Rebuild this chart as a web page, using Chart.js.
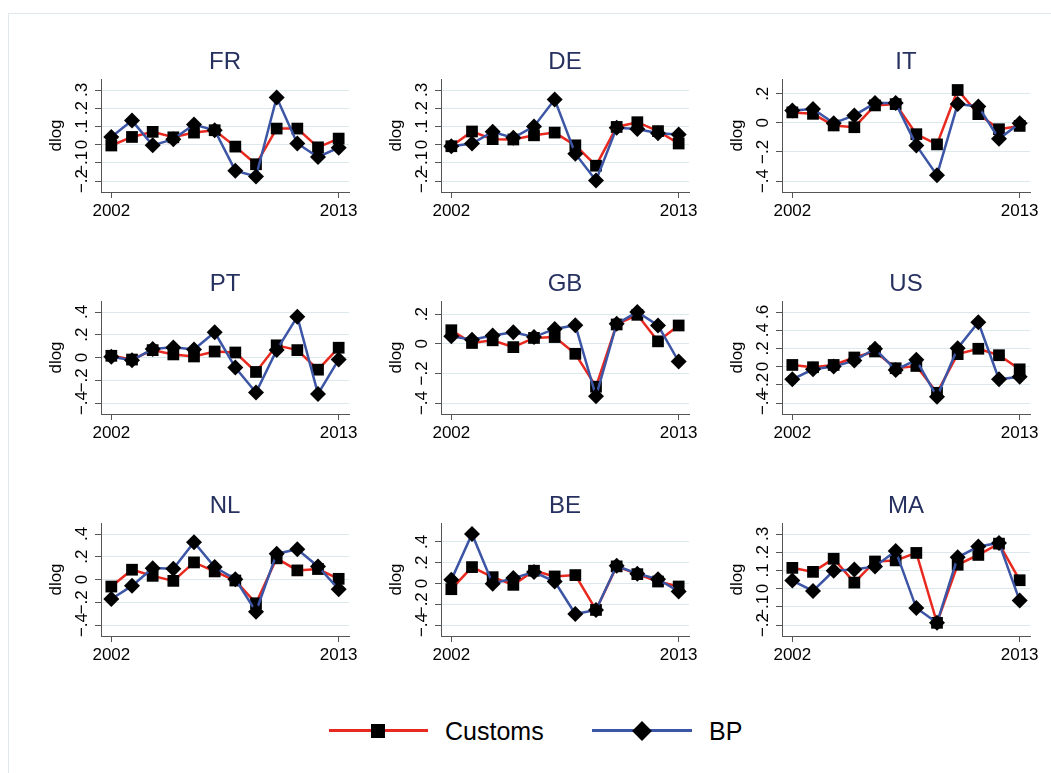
<!DOCTYPE html>
<html>
<head>
<meta charset="utf-8">
<script src="https://cdn.jsdelivr.net/npm/chart.js@4.4.1/dist/chart.umd.min.js"></script>
<style>
  html, body { margin: 0; padding: 0; background: #fff; }
  body { width: 1051px; height: 773px; position: relative; overflow: hidden; font-family: "Liberation Sans", Arial, sans-serif; }
  #frame { position: absolute; left: 8px; top: 13px; width: 1100px; height: 800px; border: 1px solid #dfeaec; }
  .panel { position: absolute; }
  .lg-line { position: absolute; height: 3px; }
  .lg-mark { position: absolute; width: 14px; height: 14px; background: #000; }
  .lg-text { position: absolute; font-size: 25px; line-height: 28px; color: #000; }
</style>
</head>
<body>
<div id="frame"></div>

<div class="lg-line" style="left:329px; top:729px; width:99px; background:#e8291f"></div>
<div class="lg-mark" style="left:371px; top:724px"></div>
<div class="lg-text" style="left:445px; top:717px">Customs</div>
<div class="lg-line" style="left:592px; top:729px; width:100px; background:#3c55a5"></div>
<div class="lg-mark" style="left:635px; top:724px; transform:rotate(45deg)"></div>
<div class="lg-text" style="left:709px; top:717px">BP</div>

<script>
// years on the x axis, only first and last get a tick
const years = [2002, 2003, 2004, 2005, 2006, 2007, 2008, 2009, 2010, 2011, 2012, 2013]
const xTicks = [2002, 2013]

const countries = ['FR', 'DE', 'IT', 'PT', 'GB', 'US', 'NL', 'BE', 'MA']

// Customs series (dlog)
const customsFR = [-0.005, 0.042, 0.07, 0.04, 0.066, 0.079, -0.011, -0.108, 0.088, 0.088, -0.015, 0.033]
const customsDE = [-0.009, 0.072, 0.03, 0.028, 0.051, 0.066, -0.004, -0.116, 0.097, 0.123, 0.074, 0.006]
const customsIT = [0.072, 0.062, -0.018, -0.03, 0.12, 0.129, -0.078, -0.148, 0.226, 0.06, -0.044, -0.021]
const customsPT = [0.015, -0.018, 0.065, 0.027, 0.009, 0.053, 0.044, -0.127, 0.107, 0.065, -0.107, 0.086]
const customsGB = [0.091, 0.005, 0.023, -0.023, 0.039, 0.045, -0.068, -0.29, 0.13, 0.195, 0.016, 0.123]
const customsUS = [0.018, -0.007, 0.018, 0.1, 0.166, -0.018, 0.007, -0.288, 0.137, 0.196, 0.125, -0.03]
const customsNL = [-0.062, 0.086, 0.032, -0.012, 0.15, 0.071, -0.009, -0.209, 0.186, 0.08, 0.092, 0.006]
const customsBE = [-0.055, 0.158, 0.061, -0.013, 0.123, 0.068, 0.081, -0.255, 0.165, 0.09, 0.019, -0.029]
const customsMA = [0.114, 0.092, 0.164, 0.033, 0.149, 0.155, 0.196, -0.188, 0.131, 0.185, 0.247, 0.046]

// BP series (dlog)
const bpFR = [0.042, 0.132, -0.004, 0.03, 0.11, 0.079, -0.143, -0.175, 0.259, 0.006, -0.068, -0.017]
const bpDE = [-0.009, 0.006, 0.07, 0.037, 0.1, 0.248, -0.05, -0.197, 0.092, 0.086, 0.062, 0.055]
const bpIT = [0.085, 0.095, -0.002, 0.051, 0.136, 0.136, -0.155, -0.36, 0.129, 0.113, -0.11, -0.002]
const bpPT = [0.006, -0.024, 0.074, 0.089, 0.071, 0.222, -0.089, -0.308, 0.065, 0.359, -0.32, -0.018]
const bpGB = [0.05, 0.027, 0.055, 0.077, 0.045, 0.1, 0.125, -0.355, 0.134, 0.214, 0.123, -0.12]
const bpUS = [-0.14, -0.03, 0.0, 0.066, 0.196, -0.037, 0.074, -0.332, 0.203, 0.487, -0.14, -0.111]
const bpNL = [-0.171, -0.056, 0.1, 0.094, 0.327, 0.109, 0.003, -0.283, 0.227, 0.266, 0.115, -0.086]
const bpBE = [0.035, 0.477, -0.003, 0.052, 0.11, 0.019, -0.294, -0.255, 0.171, 0.094, 0.042, -0.077]
const bpMA = [0.044, -0.013, 0.098, 0.105, 0.122, 0.207, -0.107, -0.188, 0.172, 0.231, 0.251, -0.066]

// y tick values per panel
const ticksTenth = [-0.2, -0.1, 0, 0.1, 0.2, 0.3]
const ticksShort = [-0.4, -0.2, 0, 0.2]
const ticksMid = [-0.4, -0.2, 0, 0.2, 0.4]
const ticksWide = [-0.4, -0.2, 0, 0.2, 0.4, 0.6]

const customs = { FR: customsFR, DE: customsDE, IT: customsIT, PT: customsPT, GB: customsGB, US: customsUS, NL: customsNL, BE: customsBE, MA: customsMA }
const bp = { FR: bpFR, DE: bpDE, IT: bpIT, PT: bpPT, GB: bpGB, US: bpUS, NL: bpNL, BE: bpBE, MA: bpMA }
const yTicks = { FR: ticksTenth, DE: ticksTenth, IT: ticksShort, PT: ticksMid, GB: ticksShort, US: ticksWide, NL: ticksMid, BE: ticksMid, MA: ticksTenth }

// layout of the 3x3 grid (canvas corners)
const colLeft = [6, 346, 687]
const rowTop = [29, 251, 473]
const CANVAS_W = 358
const CANVAS_H = 203

const RED = '#e8291f'
const BLUE = '#3c55a5'
const AXIS = '#555555'
const GRID = '#dbe8ec'
const FONT = '"Liberation Sans", Arial, sans-serif'

// Stata-like labels: .2, -.2, 0
const fmtTick = (v) => {
  if (v === 0) return '0'
  const s = String(Math.abs(v)).replace(/^0/, '')
  return (v < 0 ? '\u2212' : '') + s
}

const toPoints = (vals) => years.map((yr, i) => ({ x: yr, y: vals[i] }))

function makePanel(code, idx) {
  const canvas = document.createElement('canvas')
  canvas.width = CANVAS_W
  canvas.height = CANVAS_H
  canvas.className = 'panel'
  canvas.style.left = colLeft[idx % 3] + 'px'
  canvas.style.top = rowTop[Math.floor(idx / 3)] + 'px'
  document.body.appendChild(canvas)

  const ticks = yTicks[code]
  const all = [...customs[code], ...bp[code], ...ticks]
  const lo = Math.min(...all)
  const hi = Math.max(...all)
  const pad = (hi - lo) * 11 / 91 // plot region margin

  new Chart(canvas.getContext('2d'), {
    type: 'line',
    data: {
      datasets: [
        {
          label: 'Customs',
          data: toPoints(customs[code]),
          borderColor: RED,
          borderWidth: 2.5,
          pointStyle: 'rect',
          pointRadius: 8.3,
          pointBackgroundColor: '#000',
          pointBorderWidth: 0,
          order: 2,
        },
        {
          label: 'BP',
          data: toPoints(bp[code]),
          borderColor: BLUE,
          borderWidth: 2.5,
          pointStyle: 'rectRot',
          pointRadius: 8,
          pointBackgroundColor: '#000',
          pointBorderWidth: 0,
          order: 1,
        },
      ],
    },
    options: {
      responsive: false,
      animation: false,
      clip: false,
      layout: { padding: { left: 0, right: 15, top: 0, bottom: 0 } },
      plugins: {
        legend: { display: false },
        tooltip: { enabled: false },
        title: {
          display: true,
          text: code,
          fullSize: false,
          color: '#26315f',
          font: { family: FONT, size: 24, weight: 'normal', lineHeight: 1.2 },
          padding: { top: 18.6, bottom: 2.6 },
        },
      },
      scales: {
        x: {
          type: 'linear',
          min: 2001.5,
          max: 2013.5,
          afterBuildTicks: (s) => { s.ticks = xTicks.map((v) => ({ value: v })) },
          afterFit: (s) => { s.height = 40 },
          ticks: { callback: (v) => String(v), autoSkip: false, maxRotation: 0, padding: 3, color: '#000', font: { family: FONT, size: 17 } },
          grid: { drawOnChartArea: false, tickColor: AXIS, tickLength: 6 },
          border: { color: AXIS, width: 1 },
        },
        y: {
          min: lo - pad,
          max: hi + pad,
          afterBuildTicks: (s) => { s.ticks = ticks.map((v) => ({ value: v })) },
          afterFit: (s) => { s.width = 95 },
          ticks: { callback: fmtTick, autoSkip: false, minRotation: 90, maxRotation: 90, crossAlign: 'center', padding: 1, color: '#000', font: { family: FONT, size: 17 } },
          grid: { color: GRID, lineWidth: 1, tickColor: AXIS, tickLength: 6 },
          border: { color: AXIS, width: 1 },
          title: { display: true, text: 'dlog', color: '#000', font: { family: FONT, size: 17 }, padding: { top: 40, bottom: 0 } },
        },
      },
    },
  })
}

countries.forEach((code, i) => makePanel(code, i))
</script>
</body>
</html>
